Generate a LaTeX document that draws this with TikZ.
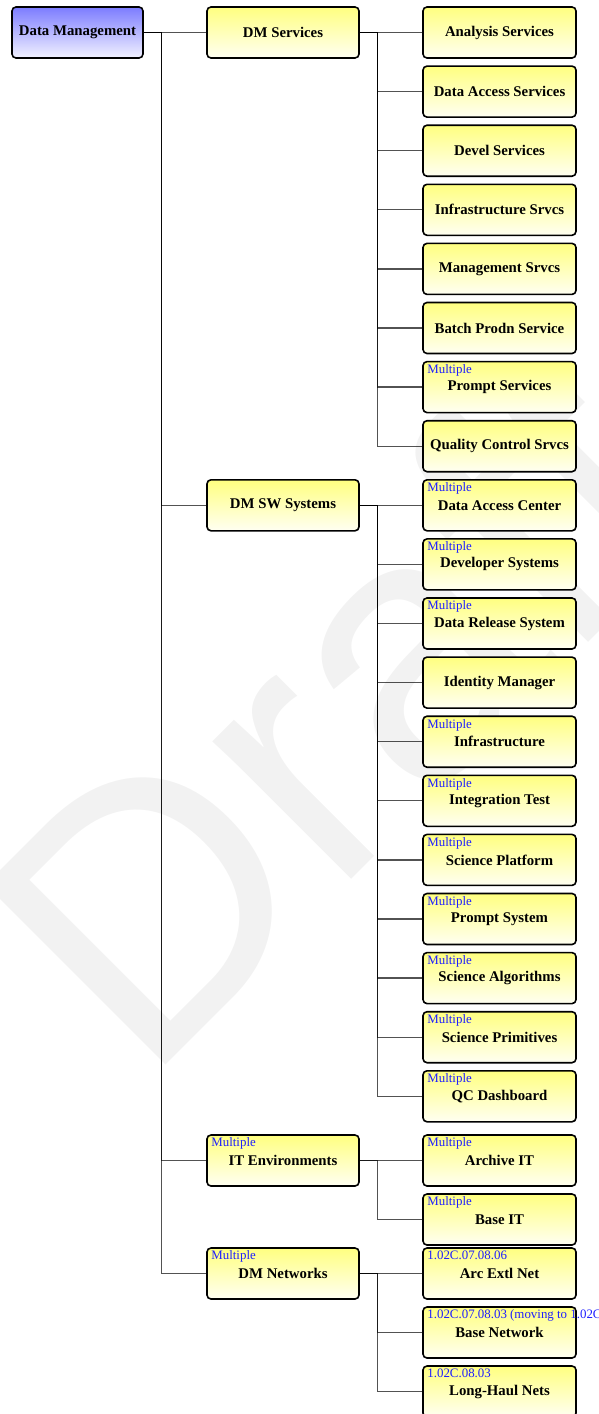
\documentclass[tikz,border=0pt]{standalone}
\usepackage{fontspec}
\usetikzlibrary{backgrounds}
\setmainfont{Liberation Serif}
\newfontfamily\wmfont{Liberation Sans}
\definecolor{boxtop}{RGB}{255,255,128}
\definecolor{boxbot}{RGB}{255,255,242}
\definecolor{roottop}{RGB}{124,124,255}
\definecolor{rootbot}{RGB}{242,242,255}
\definecolor{multiblue}{RGB}{30,30,255}
\begin{document}
\begin{tikzpicture}[x=1pt,y=-1pt,
		wbs/.style={draw=black, line width=1.6pt, rounded corners=4pt, top color=boxtop, bottom color=boxbot,
			minimum width=153pt, minimum height=51pt, inner sep=0pt, font=\fontsize{14.8}{16}\selectfont\bfseries},
		midbox/.style={wbs, minimum width=152pt},
		rootbox/.style={wbs, top color=roottop, bottom color=rootbot, minimum width=131pt},
		multi/.style={anchor=north west, inner sep=0pt, text=multiblue, font=\fontsize{12.9}{14}\selectfont},
		link/.style={draw=black, draw opacity=0.68, line width=1.3pt}]
	\useasboundingbox (0,0) rectangle (598,1414);
	% boxes
	\node [rootbox] (dm) at (77.5,32.5) {Data Management};
	\node [midbox] (dms) at (283,32.5) {DM Services};
	\node [midbox] (dmsw) at (283,505.3) {DM SW Systems};
	\node [midbox] (itenv) at (283,1160.5) {IT Environments};
	\node [midbox] (dmnet) at (283,1273.5) {DM Networks};
	\node [wbs] (as) at (499.5,32.5) {Analysis Services};
	\node [wbs] (das) at (499.5,91.6) {Data Access Services};
	\node [wbs] (ds) at (499.5,150.7) {Devel Services};
	\node [wbs] (is) at (499.5,209.8) {Infrastructure Srvcs};
	\node [wbs] (ms) at (499.5,268.9) {Management Srvcs};
	\node [wbs] (bps) at (499.5,328) {Batch Prodn Service};
	\node [wbs] (ps) at (499.5,387.1) {Prompt Services};
	\node [wbs] (qcs) at (499.5,446.2) {Quality Control Srvcs};
	\node [wbs] (dac) at (499.5,505.3) {Data Access Center};
	\node [wbs] (dev) at (499.5,564.4) {Developer Systems};
	\node [wbs] (drs) at (499.5,623.5) {Data Release System};
	\node [wbs] (idm) at (499.5,682.6) {Identity Manager};
	\node [wbs] (inf) at (499.5,741.7) {Infrastructure};
	\node [wbs] (itest) at (499.5,800.8) {Integration Test};
	\node [wbs] (sp) at (499.5,859.9) {Science Platform};
	\node [wbs] (psys) at (499.5,919) {Prompt System};
	\node [wbs] (salg) at (499.5,978.1) {Science Algorithms};
	\node [wbs] (sprim) at (499.5,1037.2) {Science Primitives};
	\node [wbs] (qcd) at (499.5,1096.3) {QC Dashboard};
	\node [wbs] (arcit) at (499.5,1160.5) {Archive IT};
	\node [wbs] (baseit) at (499.5,1219.5) {Base IT};
	\node [wbs] (arcnet) at (499.5,1273.5) {Arc Extl Net};
	\node [wbs] (basenet) at (499.5,1332.5) {Base Network};
	\node [wbs] (lhnet) at (499.5,1391.5) {Long-Haul Nets};
	% blue notes
	\node [multi] (m1) at ([xshift=5pt,yshift=-3.5pt]ps.north west) {Multiple};
	\node [multi] (m2) at ([xshift=5pt,yshift=-3.5pt]dac.north west) {Multiple};
	\node [multi] (m3) at ([xshift=5pt,yshift=-3.5pt]dev.north west) {Multiple};
	\node [multi] (m4) at ([xshift=5pt,yshift=-3.5pt]drs.north west) {Multiple};
	\node [multi] (m5) at ([xshift=5pt,yshift=-3.5pt]inf.north west) {Multiple};
	\node [multi] (m6) at ([xshift=5pt,yshift=-3.5pt]itest.north west) {Multiple};
	\node [multi] (m7) at ([xshift=5pt,yshift=-3.5pt]sp.north west) {Multiple};
	\node [multi] (m8) at ([xshift=5pt,yshift=-3.5pt]psys.north west) {Multiple};
	\node [multi] (m9) at ([xshift=5pt,yshift=-3.5pt]salg.north west) {Multiple};
	\node [multi] (m10) at ([xshift=5pt,yshift=-3.5pt]sprim.north west) {Multiple};
	\node [multi] (m11) at ([xshift=5pt,yshift=-3.5pt]qcd.north west) {Multiple};
	\node [multi] (m12) at ([xshift=5pt,yshift=-3.5pt]itenv.north west) {Multiple};
	\node [multi] (m13) at ([xshift=5pt,yshift=-3.5pt]dmnet.north west) {Multiple};
	\node [multi] (m14) at ([xshift=5pt,yshift=-3.5pt]arcit.north west) {Multiple};
	\node [multi] (m15) at ([xshift=5pt,yshift=-3.5pt]baseit.north west) {Multiple};
	\node [multi] (n1) at ([xshift=5pt,yshift=-3.5pt]arcnet.north west) {1.02C.07.08.06};
	\node [multi] (n2) at ([xshift=5pt,yshift=-3.5pt]basenet.north west) {1.02C.07.08.03 (moving to 1.02C};
	\node [multi] (n3) at ([xshift=5pt,yshift=-3.5pt]lhnet.north west) {1.02C.08.03};
	\begin{scope}[on background layer]
		% watermark
		\node [rotate=45, anchor=base west, inner sep=0pt, text=black!5, font=\wmfont\fontsize{370}{370}\selectfont] (wm) at (144,1087) {Draft};
		% links
		\foreach \c in {dms,dmsw,itenv,dmnet}
			\draw [link] (dm.east) -- ++(18,0) |- (\c.west);
		\foreach \c in {as,das,ds,is,ms,bps,ps,qcs}
			\draw [link] (dms.east) -- ++(18,0) |- (\c.west);
		\foreach \c in {dac,dev,drs,idm,inf,itest,sp,psys,salg,sprim,qcd}
			\draw [link] (dmsw.east) -- ++(18,0) |- (\c.west);
		\foreach \c in {arcit,baseit}
			\draw [link] (itenv.east) -- ++(18,0) |- (\c.west);
		\foreach \c in {arcnet,basenet,lhnet}
			\draw [link] (dmnet.east) -- ++(18,0) |- (\c.west);
	\end{scope}
\end{tikzpicture}
\end{document}
